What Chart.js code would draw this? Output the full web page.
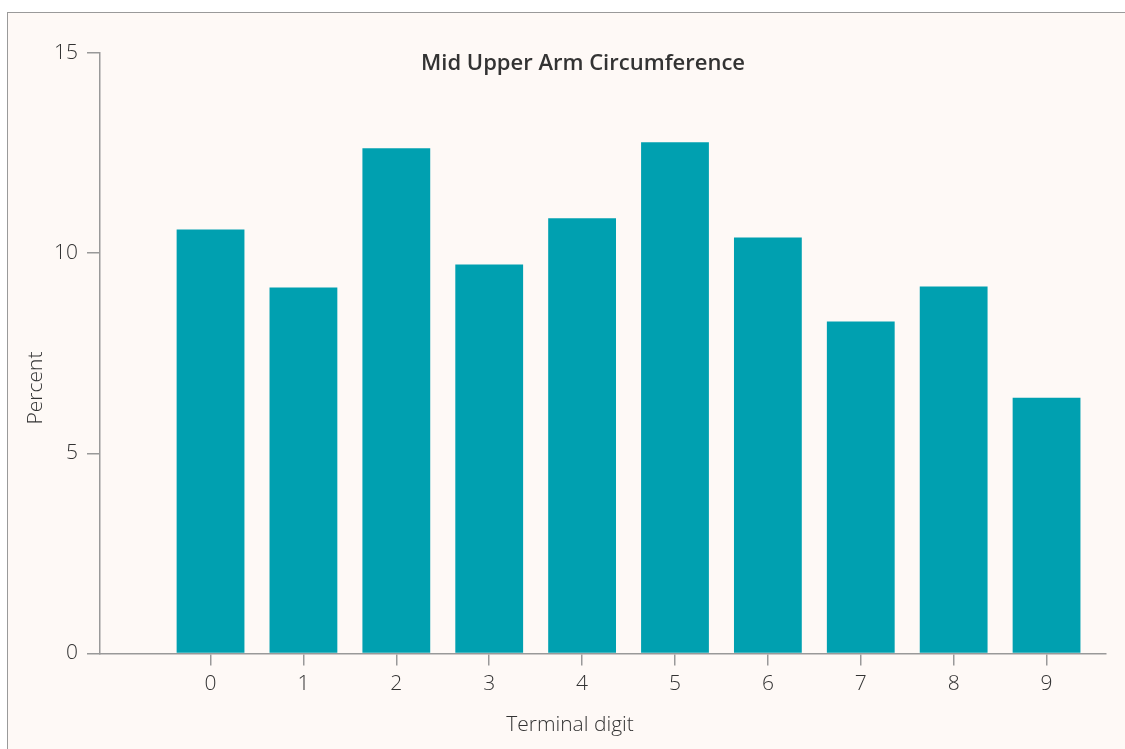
<!DOCTYPE html>
<html>
<head>
<meta charset="utf-8">
<title>Mid Upper Arm Circumference</title>
<script src="https://cdn.jsdelivr.net/npm/chart.js@4.4.0/dist/chart.umd.min.js"></script>
<style>
  html, body { margin: 0; padding: 0; background: #ffffff; overflow: hidden; }
  #panel {
    position: absolute; left: 7px; top: 12px; width: 1130px; height: 750px;
    background: #fef9f6;
    border-left: 1.5px solid #9a9a9a; border-top: 1.5px solid #9a9a9a;
  }
  #wrap { position: absolute; left: 0; top: 0; width: 1125px; height: 749px; }
</style>
</head>
<body>
<div id="panel"></div>
<div id="wrap"><canvas id="chart"></canvas></div>
<script>
// terminal digit distribution
const digits = [0, 1, 2, 3, 4, 5, 6, 7, 8, 9];
const percents = [10.59, 9.14, 12.62, 9.72, 10.87, 12.77, 10.39, 8.29, 9.17, 6.39];
const yTicks = [0, 5, 10, 15];

const axisGrey = '#999999';
const textColor = '#333333';
const tickFont = { family: "'Open Sans', sans-serif", size: 21, weight: 300 };

// titles are drawn by hand, the original places them off-centre
const titlesPlugin = {
    id: 'titles',
    afterDraw(chart) {
        const ctx = chart.ctx;
        ctx.save();
        ctx.fillStyle = textColor;
        ctx.textAlign = 'center';
        ctx.textBaseline = 'alphabetic';
        ctx.font = "600 22px 'Open Sans', sans-serif";
        ctx.fillText('Mid Upper Arm Circumference', 583, 70);

        ctx.font = "300 21px 'Open Sans', sans-serif";
        ctx.textBaseline = 'middle';
        ctx.fillText('Terminal digit', 570, 725);

        ctx.translate(36, 388);
        ctx.rotate(-Math.PI / 2);
        ctx.fillText('Percent', 0, 0);
        ctx.restore();
    }
};

const ctx = document.getElementById('chart');
new Chart(ctx, {
    type: 'bar',
    data: {
        datasets: [{
            data: digits.map((d, i) => ({ x: d, y: percents[i] })),
            backgroundColor: '#00a0b0',
            barPercentage: 0.73,
            categoryPercentage: 1
        }]
    },
    options: {
        responsive: true,
        maintainAspectRatio: false,
        animation: false,
        layout: { padding: { top: 53, right: 19, left: 0, bottom: 0 } },
        plugins: {
            legend: { display: false },
            tooltip: { enabled: false }
        },
        scales: {
            x: {
                type: 'linear',
                offset: false,
                min: -1.19,
                max: 9.64,
                afterBuildTicks: scale => { scale.ticks = digits.map(v => ({ value: v })); },
                afterFit: scale => { scale.height = 95.5; },
                grid: { offset: false, drawOnChartArea: false, tickLength: 12, color: axisGrey, lineWidth: 1.5 },
                border: { color: axisGrey, width: 1.5 },
                ticks: { color: textColor, font: tickFont, padding: 6, autoSkip: false, maxRotation: 0 }
            },
            y: {
                min: 0,
                max: 15,
                afterBuildTicks: scale => { scale.ticks = yTicks.map(v => ({ value: v })); },
                afterFit: scale => { scale.width = 100; },
                grid: { drawOnChartArea: false, tickLength: 13, color: axisGrey, lineWidth: 1.5 },
                border: { color: axisGrey, width: 1.5 },
                ticks: { color: textColor, font: tickFont, padding: 9 }
            }
        }
    },
    plugins: [titlesPlugin]
});
</script>
</body>
</html>
